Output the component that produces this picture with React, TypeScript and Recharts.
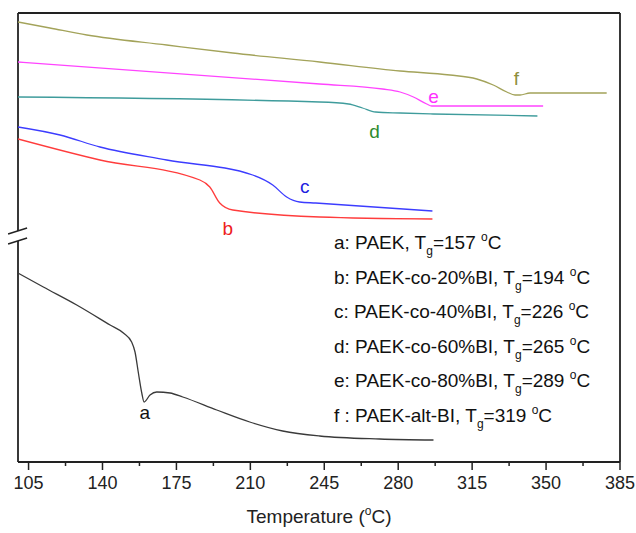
import React from "react"
import { LineChart, Line, XAxis, YAxis, ReferenceLine, ReferenceDot } from "recharts"

// DSC traces (heat flow in arbitrary units, endo down)
const tempA = [100, 112, 127.8, 143.6, 149.9, 153.8, 155.4, 157, 158.6, 159.7, 162.5, 165.7, 172, 178, 194.1, 209.7, 225.3, 242.8, 271.2, 296.7]
const heatA = [18.9, 17.5, 15.7, 13.7, 12.9, 12.0, 11.0, 8.9, 6.9, 6.0, 6.7, 7.0, 6.9, 6.5, 5.2, 4.0, 3.1, 2.6, 2.3, 2.2]

const tempB = [100, 138.8, 186.1, 190.8, 195.5, 201.7, 242.8, 296.2]
const heatB = [32.3, 30.2, 28.2, 27.5, 25.9, 25.2, 24.5, 24.3]

const tempC = [100, 119.9, 138.8, 170.4, 211.1, 220.6, 227.2, 233.3, 240.9, 296.2]
const heatC = [33.5, 32.7, 31.5, 30.2, 28.7, 27.7, 26.5, 26.0, 25.9, 25.1]

const tempD = [100, 242.8, 256.5, 263.1, 269.3, 280.9, 296.5, 345.9]
const heatD = [36.5, 36.0, 35.8, 35.4, 35.0, 34.9, 34.8, 34.6]

const tempE = [100, 242.8, 272.6, 280.9, 287.2, 293.5, 295.9, 348.6]
const heatE = [40.0, 37.8, 37.3, 37.0, 36.5, 35.8, 35.6, 35.6]

const tempF = [100, 115.1, 132.6, 170.4, 201.7, 242.8, 280.9, 304.5, 317.2, 325, 331.4, 335.3, 337.7, 342.4, 378.7]
const heatF = [44.0, 43.4, 42.7, 41.7, 40.9, 40.0, 39.1, 38.7, 38.3, 37.7, 37.0, 36.7, 36.7, 36.9, 36.9]

const majorTicks = [105, 140, 175, 210, 245, 280, 315, 350, 385]
const minorTicks = [122.5, 157.5, 192.5, 227.5, 262.5, 297.5, 332.5, 367.5]

const legendLines = [
  { lead: "a: PAEK, T", tg: "157" },
  { lead: "b: PAEK-co-20%BI, T", tg: "194" },
  { lead: "c: PAEK-co-40%BI, T", tg: "226" },
  { lead: "d: PAEK-co-60%BI, T", tg: "265" },
  { lead: "e: PAEK-co-80%BI, T", tg: "289" },
  { lead: "f : PAEK-alt-BI, T", tg: "319" },
]

const zip = (xs: number[], ys: number[]) => xs.map((x, i) => ({ x, y: ys[i] }))

const series = [
  { key: "a", data: zip(tempA, heatA), color: "#3a3a3a", label: "#111111", at: { x: 160, y: 5.0 } },
  { key: "b", data: zip(tempB, heatB), color: "#ff3c3c", label: "#ee2020", at: { x: 199.3, y: 23.4 } },
  { key: "c", data: zip(tempC, heatC), color: "#3c3cff", label: "#2020e0", at: { x: 235.7, y: 27.6 } },
  { key: "d", data: zip(tempD, heatD), color: "#3f9c9c", label: "#2e8b2e", at: { x: 268.8, y: 33.1 } },
  { key: "e", data: zip(tempE, heatE), color: "#ff44ff", label: "#ff30ff", at: { x: 296.7, y: 36.6 } },
  { key: "f", data: zip(tempF, heatF), color: "#a3a35a", label: "#8e8e3a", at: { x: 335.9, y: 38.4 } },
]

const FONT = "'Liberation Sans', Arial, sans-serif"
const Y_MAX = 44.9

const renderTick = (props: any) => {
  const { x, y, payload } = props
  const major = majorTicks.includes(payload.value)
  return (
    <g>
      <line x1={x} x2={x} y1={y} y2={y + (major ? 8 : 4)} stroke="#222" strokeWidth={1.5} />
      {major && (
        <text x={x} y={y + 27} textAnchor="middle" fontSize={18} fill="#222" fontFamily={FONT}>
          {payload.value}
        </text>
      )}
    </g>
  )
}

const renderTitle = (props: any) => {
  const vb = props.viewBox || {}
  const cx = (vb.x || 0) + (vb.width || 0) / 2
  return (
    <text x={cx} y={523} textAnchor="middle" fontSize={19} fill="#222" fontFamily={FONT}>
      Temperature (
      <tspan fontSize={12} dy={-8}>o</tspan>
      <tspan dy={8}>C)</tspan>
    </text>
  )
}

const frame = { stroke: "#222", strokeWidth: 1.8, ifOverflow: "visible" as const }

export default function App() {
  return (
    <div style={{ position: "absolute", left: 0, top: 0, width: 636, height: 533, background: "#fff" }}>
      <LineChart width={636} height={533} margin={{ top: 13, right: 16, bottom: 0, left: 18 }}>
        <XAxis
          type="number"
          dataKey="x"
          domain={[100, 385]}
          ticks={[...majorTicks, ...minorTicks].sort((p, q) => p - q)}
          interval={0}
          allowDataOverflow
          height={71}
          tickLine={false}
          tickSize={0}
          tickMargin={0}
          tick={renderTick}
          axisLine={{ stroke: "#222", strokeWidth: 1.8 }}
          label={{ content: renderTitle }}
        />
        <YAxis type="number" dataKey="y" domain={[0, Y_MAX]} hide allowDataOverflow />

        <ReferenceLine y={Y_MAX} {...frame} />
        <ReferenceLine x={385} {...frame} />
        <ReferenceLine segment={[{ x: 100, y: 0 }, { x: 100, y: 22.1 }]} {...frame} />
        <ReferenceLine segment={[{ x: 100, y: 23.1 }, { x: 100, y: Y_MAX }]} {...frame} />
        <ReferenceLine segment={[{ x: 95.3, y: 21.8 }, { x: 104.3, y: 22.4 }]} {...frame} strokeWidth={1.5} />
        <ReferenceLine segment={[{ x: 95.3, y: 22.8 }, { x: 104.3, y: 23.4 }]} {...frame} strokeWidth={1.5} />

        {series.map((s) => (
          <Line
            key={s.key}
            data={s.data}
            dataKey="y"
            type="monotone"
            stroke={s.color}
            strokeWidth={1.3}
            dot={false}
            activeDot={false}
            isAnimationActive={false}
          />
        ))}

        {series.map((s) => (
          <ReferenceDot
            key={`lbl-${s.key}`}
            x={s.at.x}
            y={s.at.y}
            r={0}
            fill="none"
            stroke="none"
            label={{ value: s.key, position: "center", fill: s.label, fontSize: 19, fontFamily: FONT }}
          />
        ))}
      </LineChart>

      <svg
        width={300}
        height={215}
        style={{ position: "absolute", left: 330, top: 228, pointerEvents: "none" }}
      >
        {legendLines.map((l, i) => (
          <text key={l.tg} x={4} y={21 + i * 34.5} fontSize={19} fill="#111" fontFamily={FONT}>
            {l.lead}
            <tspan fontSize={12} dy={6}>g</tspan>
            <tspan dy={-6}>={l.tg} </tspan>
            <tspan fontSize={12} dy={-8}>o</tspan>
            <tspan dy={8}>C</tspan>
          </text>
        ))}
      </svg>
    </div>
  )
}
